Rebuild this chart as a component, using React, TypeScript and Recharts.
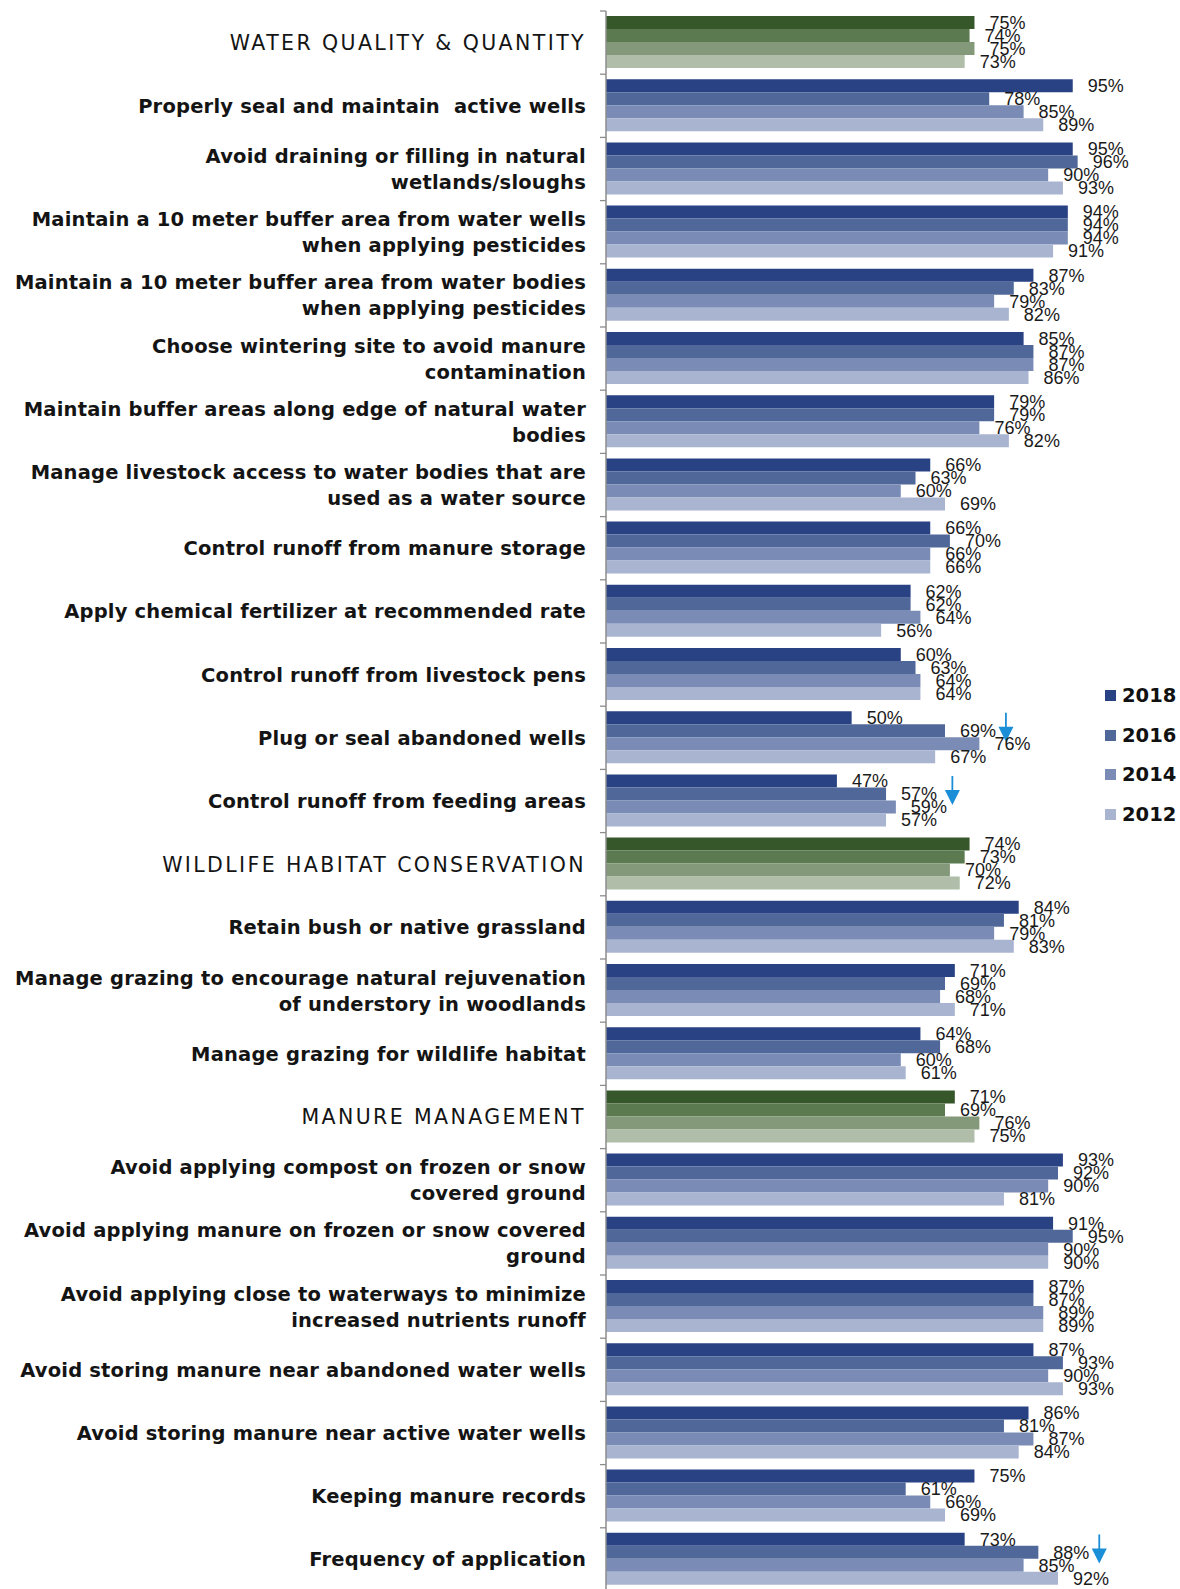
import React from 'react';
import {
  BarChart,
  Bar,
  XAxis,
  YAxis,
  Cell,
  LabelList,
  Legend,
  ReferenceDot,
} from 'recharts';

const categories = [
  'WATER QUALITY & QUANTITY',
  'Properly seal and maintain  active wells',
  'Avoid draining or filling in natural\nwetlands/sloughs',
  'Maintain a 10 meter buffer area from water wells\nwhen applying pesticides',
  'Maintain a 10 meter buffer area from water bodies\nwhen applying pesticides',
  'Choose wintering site to avoid manure\ncontamination',
  'Maintain buffer areas along edge of natural water\nbodies',
  'Manage livestock access to water bodies that are\nused as a water source',
  'Control runoff from manure storage',
  'Apply chemical fertilizer at recommended rate',
  'Control runoff from livestock pens',
  'Plug or seal abandoned wells',
  'Control runoff from feeding areas',
  'WILDLIFE HABITAT CONSERVATION',
  'Retain bush or native grassland',
  'Manage grazing to encourage natural rejuvenation\nof understory in woodlands',
  'Manage grazing for wildlife habitat',
  'MANURE MANAGEMENT',
  'Avoid applying compost on frozen or snow\ncovered ground',
  'Avoid applying manure on frozen or snow covered\nground',
  'Avoid applying close to waterways to minimize\nincreased nutrients runoff',
  'Avoid storing manure near abandoned water wells',
  'Avoid storing manure near active water wells',
  'Keeping manure records',
  'Frequency of application',
];

const sectionHeaders = [
  'WATER QUALITY & QUANTITY',
  'WILDLIFE HABITAT CONSERVATION',
  'MANURE MANAGEMENT',
];

const v2018 = [75, 95, 95, 94, 87, 85, 79, 66, 66, 62, 60, 50, 47, 74, 84, 71, 64, 71, 93, 91, 87, 87, 86, 75, 73];
const v2016 = [74, 78, 96, 94, 83, 87, 79, 63, 70, 62, 63, 69, 57, 73, 81, 69, 68, 69, 92, 95, 87, 93, 81, 61, 88];
const v2014 = [75, 85, 90, 94, 79, 87, 76, 60, 66, 64, 64, 76, 59, 70, 79, 68, 60, 76, 90, 90, 89, 90, 87, 66, 85];
const v2012 = [73, 89, 93, 91, 82, 86, 82, 69, 66, 56, 64, 67, 57, 72, 83, 71, 61, 75, 81, 90, 89, 93, 84, 69, 92];

const years = ['2018', '2016', '2014', '2012'];
const blueColors = ['#284283', '#506899', '#7a8cb6', '#a8b4d0'];
const greenColors = ['#36572a', '#5b7a50', '#84987a', '#b0bda8'];

// down arrows drawn next to some rows
const arrowRows = ['Plug or seal abandoned wells', 'Control runoff from feeding areas', 'Frequency of application'];
const arrowValues = [81.4, 70.5, 100.4];

const data = categories.map((name, i) => ({
  name,
  y2018: v2018[i],
  y2016: v2016[i],
  y2014: v2014[i],
  y2012: v2012[i],
}));

const series = [
  { key: 'y2018', values: v2018 },
  { key: 'y2016', values: v2016 },
  { key: 'y2014', values: v2014 },
  { key: 'y2012', values: v2012 },
];

const WIDTH = 1180;
const HEIGHT = 1600;
const TOP = 11;
const BOTTOM = 9;
const AXIS_W = 606;
const BAND = (HEIGHT - TOP - BOTTOM) / categories.length;
const LABEL_FONT = '"DejaVu Sans", Verdana, sans-serif';

const CategoryTick = (props: any) => {
  const { y, payload } = props;
  const text: string = payload.value;
  const lines = text.split('\n');
  const header = sectionHeaders.includes(text);
  const lineH = 26;
  const y0 = y - ((lines.length - 1) * lineH) / 2;
  return (
    <g>
      <line x1={AXIS_W - 6} x2={AXIS_W} y1={y - BAND / 2} y2={y - BAND / 2} stroke="#8c8c8c" strokeWidth={1.3} />
      <text
        x={AXIS_W - 20}
        y={y0}
        textAnchor="end"
        fill="#141414"
        fontFamily={LABEL_FONT}
        fontSize={header ? 20.5 : 19.5}
        fontWeight={header ? 400 : 700}
        letterSpacing={header ? 2.4 : 0.2}
        style={{ whiteSpace: 'pre' }}
      >
        {lines.map((l, i) => (
          <tspan key={i} x={AXIS_W - 20} y={y0 + i * lineH} dy="0.36em">
            {l}
          </tspan>
        ))}
      </text>
    </g>
  );
};

const Arrow = (props: any) => {
  const { cx, cy } = props;
  if (cx == null || cy == null) return null;
  return (
    <g>
      <line x1={cx} x2={cx} y1={cy - 25} y2={cy - 10} stroke="#1a8ed6" strokeWidth={1.8} />
      <path d={`M${cx - 7.5},${cy - 11} L${cx + 7.5},${cy - 11} L${cx},${cy + 4} Z`} fill="#1a8ed6" />
    </g>
  );
};

const YearLegend = () => (
  <div style={{ fontFamily: LABEL_FONT, fontWeight: 700, fontSize: 19.5, color: '#111' }}>
    {years.map((yr, i) => (
      <div key={yr} style={{ display: 'flex', alignItems: 'center', height: 39.5 }}>
        <span style={{ display: 'inline-block', width: 11, height: 11, background: blueColors[i], marginRight: 6 }} />
        <span>{yr}</span>
      </div>
    ))}
  </div>
);

export default function App() {
  return (
    <div style={{ position: 'absolute', left: 0, top: 0, background: '#fff' }}>
      <BarChart
        width={WIDTH}
        height={HEIGHT}
        data={data}
        layout="vertical"
        margin={{ top: TOP, right: 9, bottom: BOTTOM, left: 0 }}
        barCategoryGap={5}
        barGap={0}
      >
        <XAxis type="number" domain={[0, 115]} hide />
        <YAxis
          type="category"
          dataKey="name"
          width={AXIS_W}
          axisLine={{ stroke: '#8c8c8c', strokeWidth: 1.5 }}
          tickLine={false}
          interval={0}
          tick={<CategoryTick />}
        />
        <Legend
          layout="vertical"
          align="center"
          verticalAlign="middle"
          wrapperStyle={{ left: 1105, top: 676, width: 75 }}
          content={<YearLegend />}
        />
        {series.map((s, si) => (
          <Bar key={s.key} dataKey={s.key} fill={blueColors[si]} isAnimationActive={false}>
            {data.map((d, i) => (
              <Cell key={i} fill={sectionHeaders.includes(d.name) ? greenColors[si] : blueColors[si]} />
            ))}
            <LabelList
              dataKey={s.key}
              position="right"
              offset={15}
              formatter={(v: any) => `${v}%`}
              style={{ fontFamily: '"Liberation Sans", Arial, sans-serif', fontSize: 18, fill: '#1a1a1a' }}
            />
          </Bar>
        ))}
        {arrowRows.map((row, i) => (
          <ReferenceDot
            key={row}
            x={arrowValues[i]}
            y={row}
            r={0}
            ifOverflow="visible"
            shape={<Arrow />}
          />
        ))}
      </BarChart>
    </div>
  );
}
